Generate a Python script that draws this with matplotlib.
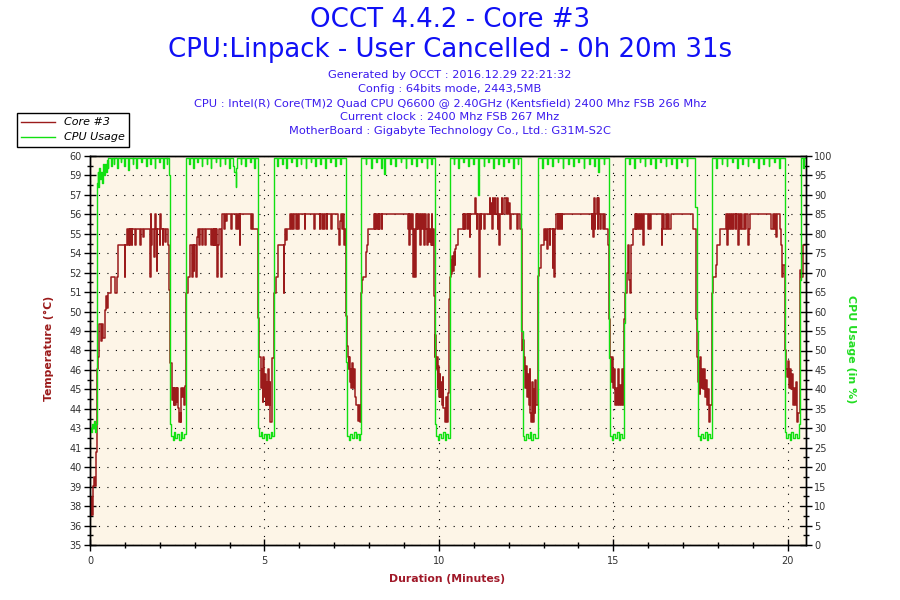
""" OCCT temperature / CPU usage log for Core #3 """
import matplotlib
matplotlib.use('Agg')
from matplotlib import pyplot as plt
from matplotlib.lines import Line2D
from matplotlib.ticker import FixedLocator, MultipleLocator


# temperature of core #3, (minutes, deg C), drawn as steps
core3_points = [
    (0.00, 37.8), (0.02, 36.9), (0.04, 38.1), (0.06, 36.9), (0.08, 37.2), (0.10, 38.8),
    (0.12, 39.4), (0.14, 38.8), (0.16, 40.0), (0.18, 41.0), (0.21, 46.3), (0.24, 47.1),
    (0.27, 49.2), (0.31, 48.1), (0.35, 49.2), (0.38, 48.3), (0.43, 50.1), (0.46, 51.0),
    (0.49, 50.2), (0.51, 51.2), (0.60, 52.2), (0.73, 51.2), (0.76, 52.2), (0.81, 54.3),
    (0.99, 52.2), (1.01, 54.3), (1.05, 55.3), (1.10, 54.3), (1.12, 55.3), (1.14, 54.3),
    (1.16, 55.3), (1.19, 54.3), (1.21, 55.3), (1.29, 54.3), (1.31, 55.3), (1.43, 54.3),
    (1.45, 55.3), (1.53, 54.8), (1.55, 55.3), (1.72, 52.2), (1.74, 56.3), (1.76, 54.3),
    (1.79, 55.3), (1.83, 53.5), (1.85, 56.3), (1.88, 55.3), (1.91, 52.6), (1.93, 55.3),
    (2.00, 54.3), (2.02, 56.3), (2.04, 55.3), (2.08, 54.3), (2.10, 55.3), (2.15, 54.5),
    (2.17, 55.3), (2.24, 54.3),
    (2.26, 51.4), (2.30, 46.7), (2.34, 45.1), (2.36, 44.3), (2.38, 45.1), (2.40, 44.0),
    (2.42, 45.1), (2.44, 44.0), (2.46, 45.1), (2.48, 44.2), (2.50, 45.1), (2.52, 43.8),
    (2.55, 42.9), (2.58, 43.5), (2.60, 42.9), (2.62, 45.1), (2.64, 44.5), (2.67, 45.1),
    (2.69, 44.0), (2.72, 45.2),
    (2.75, 51.2), (2.81, 52.2), (2.86, 54.3), (2.92, 52.2), (2.94, 54.3), (2.97, 52.6),
    (2.99, 54.3), (3.04, 52.2), (3.06, 54.8), (3.09, 55.3), (3.12, 54.3), (3.15, 55.3),
    (3.22, 54.3), (3.24, 55.3), (3.30, 54.3), (3.33, 55.3), (3.48, 54.3), (3.50, 55.3),
    (3.52, 54.3), (3.54, 55.3), (3.56, 54.3), (3.58, 55.3), (3.60, 54.3), (3.62, 55.3),
    (3.65, 52.2), (3.67, 54.3), (3.70, 55.3), (3.75, 52.2), (3.77, 56.3), (3.84, 55.3),
    (3.86, 56.3), (3.90, 55.8), (3.92, 56.3), (4.05, 55.3), (4.07, 56.3), (4.19, 55.3),
    (4.21, 56.3), (4.24, 55.3), (4.26, 56.3), (4.29, 54.3), (4.31, 56.3), (4.62, 55.3),
    (4.64, 56.3), (4.66, 55.3),
    (4.81, 49.6), (4.85, 47.1), (4.89, 46.3), (4.91, 45.1), (4.93, 46.3), (4.95, 44.2),
    (4.97, 47.1), (4.99, 44.5), (5.01, 46.0), (5.03, 44.0), (5.05, 45.5), (5.07, 44.0),
    (5.10, 46.3), (5.12, 44.0), (5.15, 45.5), (5.17, 42.9), (5.21, 44.0), (5.23, 47.0),
    (5.27, 51.2), (5.33, 52.2), (5.38, 54.3), (5.55, 51.2), (5.57, 54.3), (5.59, 55.3),
    (5.62, 54.6), (5.64, 55.3), (5.72, 56.3), (5.77, 55.3), (5.80, 56.3), (5.82, 55.3),
    (5.86, 56.3), (5.90, 55.3), (5.92, 56.3), (5.96, 55.3), (5.98, 56.3), (6.15, 55.3),
    (6.17, 56.3), (6.43, 55.3), (6.45, 56.3), (6.58, 55.3), (6.60, 56.3), (6.65, 55.3),
    (6.67, 56.3), (6.72, 55.3), (6.74, 56.3), (6.78, 55.3), (6.80, 56.3), (6.92, 55.3),
    (6.94, 56.3), (7.11, 55.3), (7.14, 54.3), (7.16, 55.8), (7.19, 56.3), (7.22, 55.3),
    (7.25, 56.3), (7.28, 54.3), (7.30, 55.3),
    (7.33, 49.7), (7.37, 47.8), (7.39, 47.1), (7.41, 46.3), (7.43, 47.1), (7.45, 45.5),
    (7.47, 46.3), (7.49, 45.1), (7.52, 46.7), (7.54, 45.1), (7.57, 46.3), (7.60, 44.5),
    (7.63, 44.0), (7.67, 43.0), (7.70, 44.0), (7.73, 42.9), (7.76, 44.0),
    (7.78, 51.2), (7.80, 52.0), (7.83, 52.2), (7.90, 53.0), (7.92, 53.8), (7.95, 54.3),
    (7.97, 55.3), (8.14, 56.3), (8.16, 55.3), (8.18, 56.3), (8.20, 55.3), (8.22, 56.3),
    (8.25, 55.3), (8.27, 56.3), (8.29, 55.3), (8.32, 56.3), (8.36, 55.3), (8.38, 56.3),
    (9.11, 55.3), (9.13, 56.3), (9.15, 54.3), (9.17, 56.3), (9.20, 55.3), (9.22, 56.3),
    (9.25, 54.3), (9.27, 52.2), (9.29, 55.3), (9.31, 52.2), (9.33, 56.3), (9.36, 55.3),
    (9.38, 56.3), (9.41, 55.3), (9.43, 56.3), (9.46, 54.3), (9.48, 56.3), (9.52, 55.3),
    (9.54, 56.3), (9.58, 54.3), (9.60, 56.3), (9.64, 55.3), (9.66, 54.3), (9.68, 56.3),
    (9.71, 54.5), (9.73, 55.3), (9.76, 54.3), (9.79, 56.3), (9.81, 54.3), (9.84, 55.3),
    (9.86, 51.0), (9.88, 47.1), (9.90, 48.5), (9.92, 46.3), (9.94, 47.1), (9.96, 45.1),
    (9.98, 46.5), (10.00, 44.5), (10.02, 46.0), (10.04, 44.5), (10.06, 45.5), (10.08, 44.0),
    (10.11, 45.8), (10.13, 43.8), (10.16, 42.9), (10.20, 44.5), (10.23, 42.9), (10.26, 44.8),
    (10.29, 50.8), (10.32, 52.2), (10.34, 53.3), (10.36, 52.4), (10.38, 53.6), (10.40, 52.6),
    (10.42, 53.8), (10.45, 53.0), (10.47, 54.0), (10.50, 54.3), (10.54, 55.3), (10.69, 56.3),
    (10.71, 55.3), (10.73, 56.3), (10.76, 55.3), (10.78, 56.3), (10.82, 55.3), (10.84, 56.3),
    (10.88, 54.8), (10.90, 56.3), (11.04, 57.3), (11.06, 56.3), (11.08, 55.3), (11.10, 56.3),
    (11.14, 55.3), (11.16, 52.2), (11.18, 56.3), (11.20, 55.3), (11.22, 56.3), (11.30, 55.3),
    (11.32, 56.3), (11.45, 57.3), (11.47, 56.3), (11.50, 57.0), (11.52, 55.3), (11.54, 57.3),
    (11.56, 56.3), (11.60, 57.3), (11.62, 56.3), (11.66, 57.3), (11.68, 55.3), (11.70, 56.3),
    (11.72, 54.3), (11.74, 56.3), (11.80, 57.3), (11.82, 56.3), (11.87, 57.3), (11.92, 56.3),
    (11.95, 57.3), (11.98, 56.3), (12.02, 57.0), (12.04, 55.3), (12.06, 56.3), (12.24, 55.3),
    (12.27, 56.3), (12.32, 55.3),
    (12.37, 49.4), (12.39, 47.5), (12.41, 48.2), (12.43, 46.3), (12.45, 47.1), (12.47, 45.1),
    (12.50, 46.5), (12.52, 44.5), (12.55, 46.0), (12.57, 44.0), (12.60, 46.3), (12.62, 43.5),
    (12.64, 42.9), (12.67, 45.5), (12.69, 42.9), (12.72, 45.0), (12.74, 43.5), (12.76, 45.6),
    (12.79, 44.0),
    (12.83, 52.3), (12.88, 52.8), (12.93, 54.3), (13.02, 55.3), (13.05, 54.6), (13.08, 55.3),
    (13.11, 54.0), (13.13, 55.3), (13.17, 54.3), (13.19, 55.3), (13.26, 52.8), (13.28, 55.3),
    (13.31, 52.2), (13.33, 55.3), (13.36, 56.3), (13.40, 55.3), (13.42, 56.3), (13.46, 55.3),
    (13.48, 56.3), (13.52, 55.3), (13.54, 56.3), (14.38, 55.3), (14.40, 56.3), (14.42, 54.8),
    (14.44, 57.3), (14.46, 55.3), (14.48, 56.3), (14.52, 57.3), (14.55, 55.3), (14.57, 57.3),
    (14.60, 56.3), (14.62, 55.3), (14.64, 56.3), (14.70, 55.3), (14.72, 56.3), (14.76, 55.3),
    (14.84, 54.3),
    (14.88, 49.5), (14.91, 47.1), (14.93, 46.3), (14.95, 45.5), (14.97, 47.1), (14.99, 45.1),
    (15.01, 46.3), (15.04, 44.0), (15.07, 45.1), (15.10, 44.0), (15.13, 46.3), (15.16, 44.0),
    (15.19, 45.3), (15.22, 44.0), (15.25, 46.3), (15.28, 44.0),
    (15.31, 49.5), (15.33, 51.2), (15.40, 52.5), (15.43, 54.3), (15.45, 52.0), (15.48, 51.2),
    (15.50, 54.3), (15.57, 55.3), (15.62, 56.3), (15.64, 55.3), (15.66, 56.3), (15.69, 55.3),
    (15.71, 56.3), (15.74, 55.3), (15.76, 56.3), (15.80, 55.3), (15.82, 56.3), (15.86, 54.3),
    (15.88, 56.3), (16.00, 55.3), (16.02, 56.3), (16.06, 55.3), (16.08, 56.3), (16.38, 54.3),
    (16.40, 55.3), (16.43, 56.3), (16.46, 55.3), (16.50, 56.3), (16.53, 55.3), (16.57, 56.3),
    (16.60, 55.3), (16.64, 56.3), (17.27, 55.3),
    (17.38, 49.5), (17.41, 47.1), (17.43, 45.5), (17.45, 46.8), (17.47, 44.7), (17.49, 47.1),
    (17.51, 45.1), (17.54, 46.3), (17.56, 45.0), (17.59, 46.3), (17.62, 44.5), (17.65, 45.6),
    (17.68, 44.0), (17.71, 45.0), (17.74, 42.9), (17.78, 44.0),
    (17.83, 51.2), (17.86, 52.2), (17.93, 53.0), (17.96, 54.3), (18.05, 55.3), (18.24, 56.3),
    (18.26, 54.3), (18.28, 56.3), (18.31, 55.3), (18.34, 56.3), (18.37, 55.3), (18.40, 56.3),
    (18.44, 55.3), (18.46, 56.3), (18.50, 55.3), (18.52, 56.3), (18.57, 54.3), (18.59, 56.3),
    (18.63, 55.3), (18.65, 56.3), (18.70, 55.3), (18.73, 56.3), (18.78, 55.3), (18.80, 56.3),
    (18.86, 54.3), (18.88, 55.3), (18.91, 56.3), (19.53, 55.3), (19.56, 56.3), (19.60, 55.3),
    (19.63, 56.3), (19.66, 54.8), (19.69, 56.3), (19.77, 55.3), (19.80, 54.3), (19.84, 52.2),
    (19.86, 53.0),
    (19.91, 49.9), (19.93, 47.5), (19.96, 46.3), (19.98, 45.8), (20.00, 46.8), (20.02, 45.1),
    (20.05, 46.3), (20.08, 45.0), (20.11, 46.0), (20.14, 44.0), (20.17, 45.1), (20.20, 44.0),
    (20.23, 45.5), (20.26, 42.9), (20.30, 43.5),
    (20.35, 52.7), (20.38, 52.2), (20.43, 54.3), (20.52, 54.3),
]

# CPU usage (minutes, %), drawn as steps
cpu_points = [
    (0.00, 30), (0.03, 29), (0.06, 31), (0.09, 30), (0.12, 32), (0.15, 29), (0.18, 31),
    (0.20, 93), (0.22, 96), (0.24, 92), (0.26, 97), (0.28, 94), (0.31, 96), (0.33, 93),
    (0.36, 98), (0.39, 95), (0.42, 98), (0.45, 96), (0.48, 99), (0.51, 97), (0.53, 99.5),
    (0.60, 97.5), (0.62, 99.5), (0.68, 98), (0.70, 99.5), (0.78, 97), (0.80, 99.5),
    (0.88, 98.5), (0.90, 99.5), (0.98, 97.5), (1.00, 99.5), (1.10, 96.5), (1.12, 99.5),
    (1.22, 98), (1.24, 99.5), (1.33, 97), (1.35, 99.5), (1.47, 98.5), (1.49, 99.5),
    (1.60, 97.5), (1.62, 99.5), (1.72, 98), (1.74, 99.5), (1.85, 97), (1.87, 99.5),
    (1.98, 98.5), (2.00, 99.5), (2.10, 97), (2.12, 99.5), (2.20, 98), (2.22, 99.5),
    (2.27, 95), (2.30, 31), (2.33, 28), (2.37, 27), (2.41, 29), (2.45, 27.5), (2.50, 28.5),
    (2.55, 27), (2.60, 29), (2.65, 27.5), (2.69, 28.5),
    (2.75, 99.5), (2.84, 98), (2.86, 99.5), (2.95, 97), (2.97, 99.5), (3.07, 98.5),
    (3.09, 99.5), (3.20, 97.5), (3.22, 99.5), (3.34, 98), (3.36, 99.5), (3.46, 97),
    (3.48, 99.5), (3.60, 98.5), (3.62, 99.5), (3.72, 97.5), (3.74, 99.5), (3.86, 98),
    (3.88, 99.5), (3.98, 97), (4.00, 99.5), (4.10, 97.5), (4.14, 96), (4.17, 92),
    (4.19, 97), (4.22, 99.5), (4.32, 98), (4.34, 99.5), (4.45, 97.5), (4.47, 99.5),
    (4.58, 98.5), (4.60, 99.5), (4.70, 97), (4.72, 99.5),
    (4.81, 30), (4.84, 28), (4.89, 29), (4.93, 27.5), (4.98, 28.5), (5.03, 27),
    (5.08, 28.5), (5.13, 27.5), (5.18, 29), (5.22, 28),
    (5.27, 99.5), (5.36, 97.5), (5.38, 99.5), (5.50, 98), (5.52, 99.5), (5.63, 97),
    (5.65, 99.5), (5.77, 98.5), (5.79, 99.5), (5.90, 97.5), (5.92, 99.5), (6.04, 98),
    (6.06, 99.5), (6.18, 97), (6.20, 99.5), (6.32, 98.5), (6.34, 99.5), (6.46, 97.5),
    (6.48, 99.5), (6.60, 98), (6.62, 99.5), (6.74, 97), (6.76, 99.5), (6.88, 98.5),
    (6.90, 99.5), (7.02, 97.5), (7.04, 99.5), (7.16, 98), (7.18, 99.5),
    (7.33, 47), (7.37, 28), (7.41, 27), (7.46, 28.5), (7.51, 27.5), (7.56, 29),
    (7.61, 27.5), (7.66, 28.5), (7.71, 27), (7.74, 28.5),
    (7.78, 99.5), (7.90, 98), (7.92, 99.5), (8.05, 97), (8.07, 99.5), (8.20, 98.5),
    (8.22, 99.5), (8.35, 97), (8.37, 99.5), (8.44, 95.5), (8.46, 99.5), (8.60, 98),
    (8.62, 99.5), (8.75, 97.5), (8.77, 99.5), (8.90, 98.5), (8.92, 99.5), (9.05, 97),
    (9.07, 99.5), (9.20, 98), (9.22, 99.5), (9.35, 97.5), (9.37, 99.5), (9.50, 98.5),
    (9.52, 99.5), (9.65, 97), (9.67, 99.5), (9.78, 98), (9.80, 99.5),
    (9.88, 31), (9.91, 28), (9.96, 27), (10.01, 28.5), (10.06, 27.5), (10.11, 29),
    (10.16, 27), (10.21, 28.5), (10.25, 27.5),
    (10.31, 99.5), (10.42, 98), (10.44, 99.5), (10.56, 97), (10.58, 99.5), (10.70, 98.5),
    (10.72, 99.5), (10.84, 97.5), (10.86, 99.5), (10.98, 98), (11.00, 99.5), (11.11, 96),
    (11.13, 90), (11.15, 99.5), (11.28, 97.5), (11.30, 99.5), (11.42, 98.5), (11.44, 99.5),
    (11.56, 97), (11.58, 99.5), (11.70, 98), (11.72, 99.5), (11.84, 97.5), (11.86, 99.5),
    (11.98, 98.5), (12.00, 99.5), (12.12, 97), (12.14, 99.5), (12.26, 98), (12.28, 99.5),
    (12.35, 55), (12.40, 28), (12.45, 27), (12.50, 28.5), (12.55, 27.5), (12.60, 29),
    (12.65, 27), (12.70, 28.5), (12.75, 27.5),
    (12.83, 99.5), (12.96, 97), (12.98, 99.5), (13.10, 98), (13.12, 99.5), (13.25, 97.5),
    (13.27, 99.5), (13.40, 98.5), (13.42, 99.5), (13.55, 97), (13.57, 99.5), (13.70, 98),
    (13.72, 99.5), (13.85, 97.5), (13.87, 99.5), (14.00, 98.5), (14.02, 99.5), (14.15, 97),
    (14.17, 99.5), (14.30, 98), (14.32, 99.5), (14.45, 97.5), (14.47, 99.5), (14.56, 96),
    (14.58, 99.5), (14.72, 98), (14.74, 99.5),
    (14.86, 48), (14.90, 28), (14.95, 27), (15.00, 28.5), (15.05, 27.5), (15.10, 29),
    (15.15, 27), (15.20, 28.5), (15.25, 27.5),
    (15.31, 57), (15.34, 99.5), (15.46, 98), (15.48, 99.5), (15.60, 97), (15.62, 99.5),
    (15.75, 98.5), (15.77, 99.5), (15.90, 97.5), (15.92, 99.5), (16.05, 98), (16.07, 99.5),
    (16.20, 97), (16.22, 99.5), (16.35, 98.5), (16.37, 99.5), (16.50, 97.5), (16.52, 99.5),
    (16.65, 98), (16.67, 99.5), (16.80, 97), (16.82, 99.5), (16.95, 98.5), (16.97, 99.5),
    (17.10, 97.5), (17.12, 99.5),
    (17.35, 87), (17.40, 55), (17.42, 28), (17.47, 27), (17.52, 28.5), (17.57, 27.5),
    (17.62, 29), (17.67, 27), (17.72, 28.5), (17.76, 27.5),
    (17.83, 99.5), (17.95, 97), (17.97, 99.5), (18.10, 98), (18.12, 99.5), (18.25, 97.5),
    (18.27, 99.5), (18.40, 98.5), (18.42, 99.5), (18.55, 97), (18.57, 99.5), (18.70, 98),
    (18.72, 99.5), (18.85, 97.5), (18.87, 99.5), (19.00, 98.5), (19.02, 99.5), (19.15, 97),
    (19.17, 99.5), (19.30, 98), (19.32, 99.5), (19.45, 97.5), (19.47, 99.5), (19.60, 98.5),
    (19.62, 99.5), (19.75, 97), (19.77, 99.5),
    (19.91, 29), (19.95, 27.5), (20.00, 28.5), (20.05, 27), (20.10, 29), (20.15, 27.5),
    (20.20, 28.5), (20.26, 27.5), (20.32, 31),
    (20.34, 68), (20.39, 99.5), (20.42, 97), (20.45, 99.5), (20.52, 99.5),
]

temp_tick_values = [35 + 1.25 * i for i in range(21)]
temp_tick_labels = ['35', '36', '38', '39', '40', '41', '43', '44', '45', '46', '48',
                    '49', '50', '51', '52', '54', '55', '56', '57', '59', '60']
cpu_tick_values = list(range(0, 101, 5))
minute_ticks = [0, 5, 10, 15, 20]

title_lines = ['OCCT 4.4.2 - Core #3', 'CPU:Linpack - User Cancelled - 0h 20m 31s']
info_lines = [
    'Generated by OCCT : 2016.12.29 22:21:32',
    'Config : 64bits mode, 2443,5MB',
    'CPU : Intel(R) Core(TM)2 Quad CPU Q6600 @ 2.40GHz (Kentsfield) 2400 Mhz FSB 266 Mhz',
    'Current clock : 2400 Mhz FSB 267 Mhz',
    'MotherBoard : Gigabyte Technology Co., Ltd.: G31M-S2C',
]

TEMP_COLOR = '#9B1B1B'
CPU_COLOR = '#11E011'
TICK_COLOR = '#333333'

temp_t, temp_c = zip(*core3_points)
cpu_t, cpu_pct = zip(*cpu_points)

fig = plt.figure(figsize=(9, 6), dpi=100)
fig.patch.set_facecolor('white')
ax = fig.add_axes([90 / 900, 55 / 600, 716 / 900, 389 / 600])
ax2 = ax.twinx()
ax.set_facecolor('#FDF5E7')
ax2.patch.set_visible(False)

ax.plot(temp_t, temp_c, color=TEMP_COLOR, linewidth=1.1, drawstyle='steps-post', zorder=3)
ax2.plot(cpu_t, cpu_pct, color=CPU_COLOR, linewidth=1.0, drawstyle='steps-post')

ax.set_xlim(0, 20.52)
ax.set_ylim(35, 60)
ax2.set_ylim(0, 100)

# ticks
ax.xaxis.set_major_locator(FixedLocator(minute_ticks))
ax.xaxis.set_minor_locator(MultipleLocator(1))
ax.yaxis.set_major_locator(FixedLocator(temp_tick_values))
ax.set_yticklabels(temp_tick_labels)
ax.yaxis.set_minor_locator(MultipleLocator(0.625))
ax2.yaxis.set_major_locator(FixedLocator(cpu_tick_values))
ax2.yaxis.set_minor_locator(MultipleLocator(2.5))

for a in (ax, ax2):
    a.tick_params(which='major', direction='inout', length=8, width=1, color='black',
                  labelsize=7, labelcolor=TICK_COLOR, pad=2)
    a.tick_params(which='minor', direction='inout', length=5, width=1, color='black')
    for sp in a.spines.values():
        sp.set_color('black')
        sp.set_linewidth(1)
ax.tick_params(axis='x', which='major', pad=4)

ax.grid(True, which='major', color='black', linestyle=(0, (1, 6.6)), linewidth=0.8)
ax.set_axisbelow(True)

# titles
fig.text(0.5, 1 - 20 / 600, title_lines[0], ha='center', va='center',
         fontsize=18.7, color='#1010F5')
fig.text(0.5, 1 - 50 / 600, title_lines[1], ha='center', va='center',
         fontsize=18.7, color='#1010F5')
for i, line in enumerate(info_lines):
    fig.text(0.5, 1 - (75 + 14 * i) / 600, line, ha='center', va='center',
             fontsize=8.2, color='#3A1AEE')

# axis labels
fig.text(49 / 900, 1 - 348 / 600, 'Temperature (°C)', rotation=90, ha='center', va='center',
         fontsize=7.8, fontweight='bold', color=TEMP_COLOR)
fig.text(851 / 900, 1 - 349 / 600, 'CPU Usage (in %)', rotation=270, ha='center', va='center',
         fontsize=8, fontweight='bold', color='#22DD22')
fig.text(447 / 900, 1 - 579 / 600, 'Duration (Minutes)', ha='center', va='center',
         fontsize=7.8, fontweight='bold', color='#A01828')

# legend
handles = [Line2D([], [], color=TEMP_COLOR, linewidth=1),
           Line2D([], [], color=CPU_COLOR, linewidth=1)]
leg = fig.legend(handles, ['Core #3', 'CPU Usage'], loc='upper left',
                 bbox_to_anchor=(17 / 900, 1 - 113 / 600), borderaxespad=0,
                 fancybox=False, edgecolor='black', framealpha=1, handlelength=3,
                 prop={'style': 'italic', 'size': 8}, borderpad=0.4, labelspacing=0.45,
                 handletextpad=0.8)
leg.get_frame().set_linewidth(1)

fig.savefig('out.png', dpi=100, facecolor='white')
